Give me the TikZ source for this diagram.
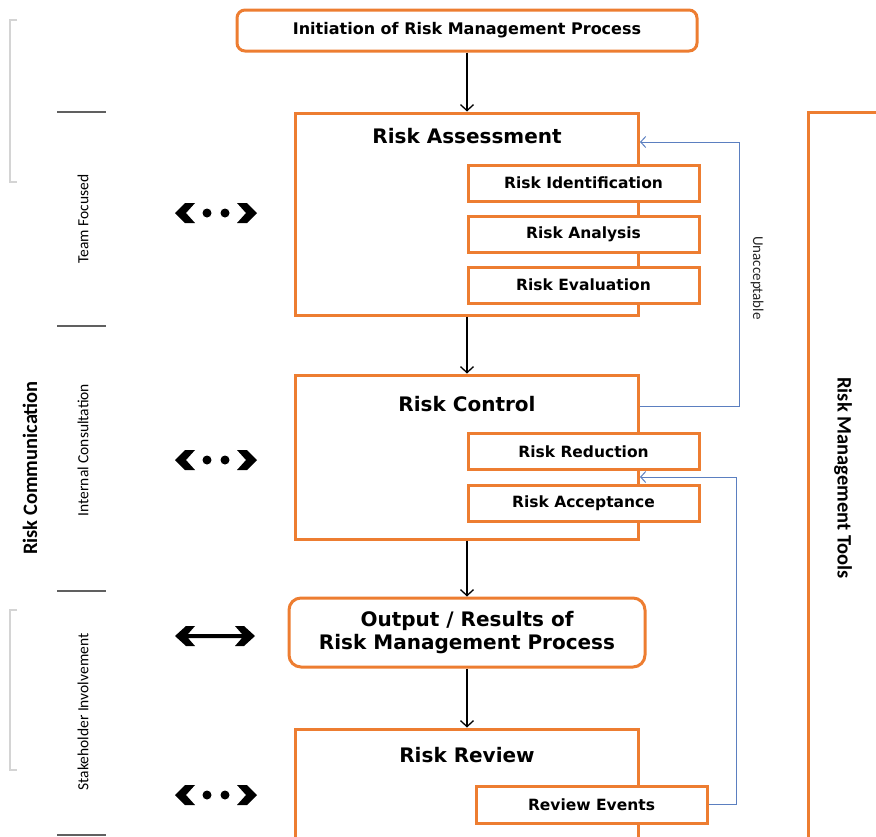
\documentclass[tikz,border=0pt]{standalone}
\usepackage{fontspec}
\setmainfont{DejaVu Sans}
\newfontfamily\calfont{Carlito}
\usetikzlibrary{arrows.meta}
\definecolor{orng}{HTML}{ED7D31}
\definecolor{fbblue}{HTML}{5B7FC0}
\definecolor{tick}{HTML}{606060}
\definecolor{brack}{HTML}{D4D4D4}
\begin{document}
\begin{tikzpicture}[x=1pt,y=-1pt,
  box/.style={draw=orng, line width=3pt, fill=white, inner sep=0pt},
  bigbox/.style={box, minimum width=343pt},
  subbox/.style={box, minimum width=231pt, minimum height=36pt,
    font=\bfseries\fontsize{15.5}{18}\selectfont},
  titletext/.style={font=\bfseries\fontsize{20}{24}\selectfont, inner sep=0pt},
  flow/.style={draw=black, line width=1.3pt, -{Straight Barb[length=6pt,width=13pt]}},
  fb/.style={draw=fbblue, line width=1pt, -{Straight Barb[length=5pt,width=11pt]}},
  sidelabel/.style={rotate=90, font=\calfont\fontsize{15.5}{18}\selectfont, inner sep=0pt},
  bigside/.style={font=\calfont\bfseries\fontsize{20.5}{24}\selectfont, inner sep=0pt},
  ticks/.style={draw=tick, line width=1.8pt},
  bracket/.style={draw=brack, line width=1.5pt},
  pics/dotarrow/.style={code={
    \fill (-41,0) -- (-31,-10) -- (-21,-10) -- (-30,0) -- (-21,10) -- (-31,10) -- cycle;
    \fill (41,0) -- (31,-10) -- (21,-10) -- (30,0) -- (21,10) -- (31,10) -- cycle;
    \fill (-9,0) circle (4.5);
    \fill (9,0) circle (4.5);
  }},
  pics/dblarrow/.style={code={
    \fill (-40,0) -- (-29,-10) -- (-20,-10) -- (-27,-2) -- (27,-2) -- (20,-10) -- (29,-10)
      -- (40,0) -- (29,10) -- (20,10) -- (27,2) -- (-27,2) -- (-20,10) -- (-29,10) -- cycle;
  }}
]
\useasboundingbox (0,0) rectangle (876,836);
\clip (0,0) rectangle (876,836);

% left brackets and ticks
\draw[bracket] (17,20) -- (10,20) -- (10,182) -- (17,182);
\draw[bracket] (17,610) -- (10,610) -- (10,770) -- (17,770);
\draw[ticks] (57,112) -- (106,112);
\draw[ticks] (57,326) -- (106,326);
\draw[ticks] (57,591) -- (106,591);
\draw[ticks] (57,835) -- (106,835);

% left labels
\node[bigside, rotate=90] (rcomm) at (30,468) {Risk Communication};
\node[sidelabel] (tfoc) at (83,219) {Team Focused};
\node[sidelabel] (icons) at (83,450) {Internal Consultation};
\node[sidelabel] (stake) at (83,712) {Stakeholder Involvement};

% communication symbols
\pic at (216,213) {dotarrow};
\pic at (216,460) {dotarrow};
\pic at (215,636) {dblarrow};
\pic at (216,795) {dotarrow};

% risk management tools
\node[box, minimum width=142pt, minimum height=838pt] (tools) at (879,531) {};
\node[bigside, rotate=-90] (toolst) at (843,478) {Risk Management Tools};

% main flow
\node[box, rounded corners=8pt, minimum width=460pt, minimum height=41pt,
  font=\bfseries\fontsize{16}{19}\selectfont] (init) at (467,30.5) {Initiation of Risk Management Process};

\node[bigbox, minimum height=202pt] (ra) at (467,214) {};
\node[titletext] (rat) at (467,136) {Risk Assessment};
\node[subbox] (rid) at (583.5,183) {Risk Identification};
\node[subbox] (ran) at (583.5,234) {Risk Analysis};
\node[subbox] (rev) at (583.5,285) {Risk Evaluation};

\node[bigbox, minimum height=164pt] (rc) at (467,457) {};
\node[titletext] (rct) at (467,404) {Risk Control};
\node[subbox] (rred) at (583.5,451.5) {Risk Reduction};
\node[subbox] (racc) at (583.5,503) {Risk Acceptance};

\node[box, rounded corners=12pt, minimum width=356pt, minimum height=69pt,
  align=center, font=\bfseries\fontsize{20}{22.5}\selectfont] (out) at (467,632.5)
  {Output / Results of\\Risk Management Process};

\node[bigbox, minimum height=171pt] (rr) at (467,814.5) {};
\node[titletext] (rrt) at (467,755) {Risk Review};
\node[subbox, minimum height=37pt] (revents) at (591.5,804.5) {Review Events};

\draw[flow] (init) -- (ra);
\draw[flow] (ra) -- (rc);
\draw[flow] (rc) -- (out);
\draw[flow] (out) -- (rr);

% feedback loops
\coordinate (ua) at (739,142);
\coordinate (ub) at (739,406);
\draw[fb] (rc.east |- ub) -- (ub) -- (ua) -- (ra.east |- ua);
\node[rotate=-90, font=\calfont\fontsize{15}{18}\selectfont, text=black!85, inner sep=0pt]
  (unacc) at (757,278) {Unacceptable};

\coordinate (uc) at (736,477);
\draw[fb] (revents.east) -| (uc) -- (rc.east |- uc);

\end{tikzpicture}
\end{document}
